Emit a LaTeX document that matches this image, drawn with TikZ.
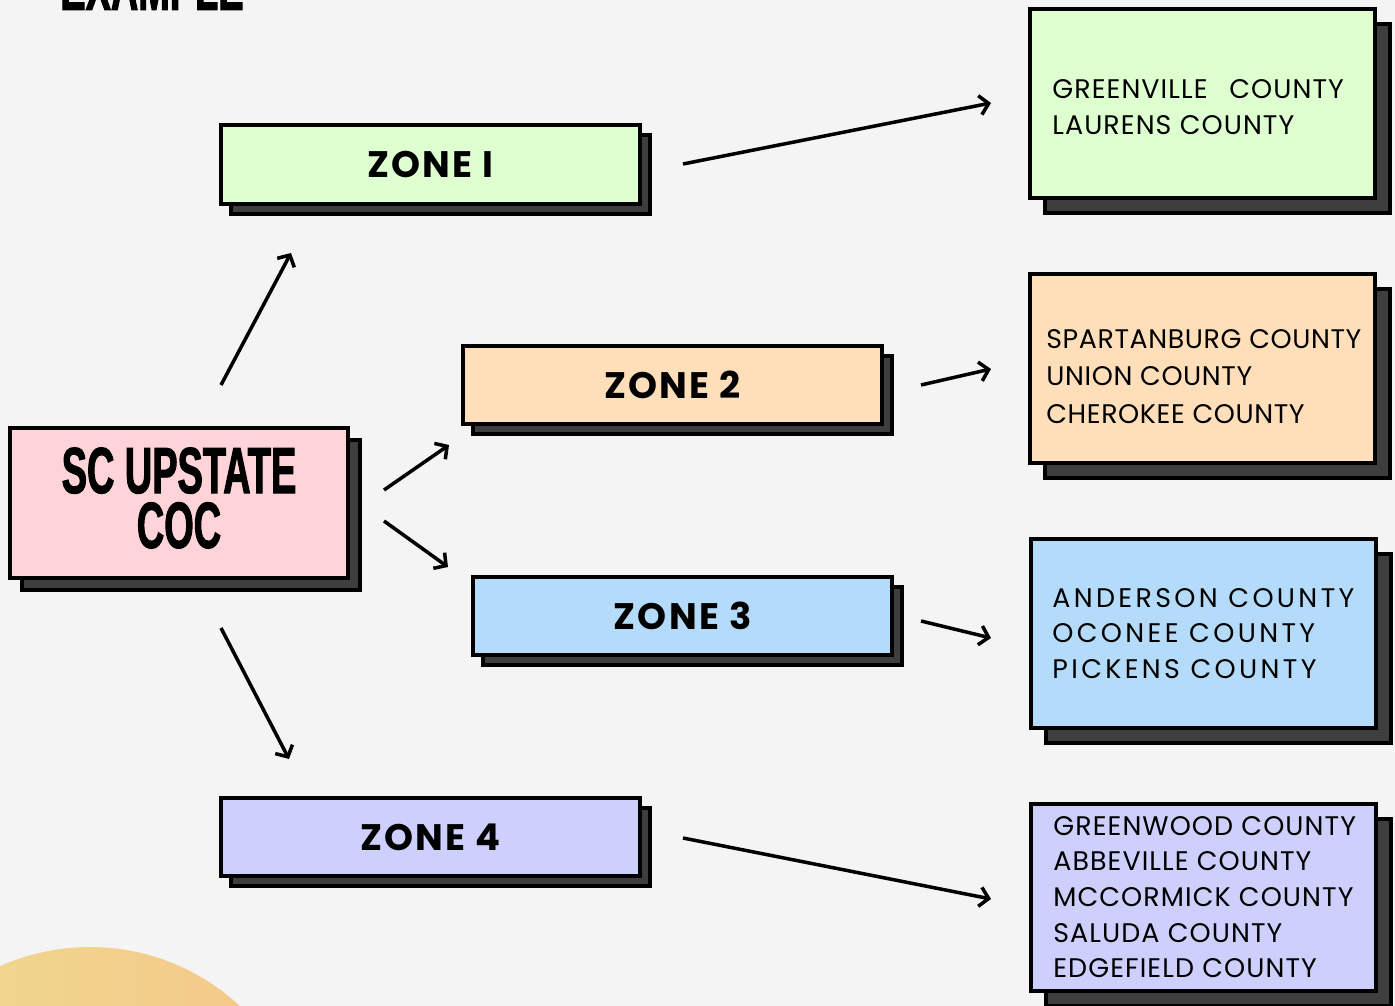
\documentclass[tikz,border=0pt]{standalone}
\usepackage{fontspec}
\setmainfont{Poppins}
\newfontfamily\headfont[FakeStretch=0.58,FakeBold=1.5]{Liberation Sans Bold}
\newfontfamily\zonefont[LetterSpace=6]{Poppins}
\newfontfamily\ctyfont[LetterSpace=4]{Poppins}
\newfontfamily\ctyfontb[LetterSpace=2.2]{Poppins}
\newfontfamily\spacedfont[LetterSpace=12.5]{Poppins}
\usetikzlibrary{arrows.meta,shadows}
\definecolor{bgc}{HTML}{F4F4F4}
\definecolor{pinkc}{HTML}{FFD4D8}
\definecolor{greenc}{HTML}{DEFFCF}
\definecolor{orangec}{HTML}{FFDFBA}
\definecolor{bluec}{HTML}{B4DCFA}
\definecolor{purplec}{HTML}{CDD0FC}
\definecolor{shadowc}{HTML}{3E3E3E}
\definecolor{sunA}{HTML}{EEDC8E}
\definecolor{sunB}{HTML}{F5C68A}
\tikzset{
  box/.style={draw=black, line width=2.5pt, inner sep=0pt},
  shad/.style={drop shadow={shadow xshift=#1, shadow yshift=-#1, opacity=1, fill=shadowc, draw=black, line width=2.5pt}},
  zonebox/.style={box, shad=0.2cm, minimum width=8.372cm, minimum height=1.57cm, font=\zonefont\bfseries\fontsize{21}{25}\selectfont},
  countybox/.style={box, shad=0.3cm, minimum width=6.892cm, minimum height=3.772cm},
  countytext/.style={anchor=west, align=left, inner sep=0pt, font=\ctyfont\fontsize{15.3}{20.4}\selectfont},
  conn/.style={line width=2pt, -{Straight Barb[length=5pt,width=11pt]}},
  head/.style={font=\headfont\fontsize{37.2}{31.2}\selectfont}
}
\begin{document}
\begin{tikzpicture}[x=0.02cm,y=-0.02cm]
\useasboundingbox (0,0) rectangle (1395,1006);
\fill[bgc] (0,0) rectangle (1395,1006);
\begin{scope}
  \clip (0,0) rectangle (1395,1006);
  \shade[left color=sunA, right color=sunB] (90,1167) circle[radius=4.4cm];
  \node[head, anchor=base west, inner sep=0pt] (ex) at (60,10) {EXAMPLE};
\end{scope}

% main box
\node[box, shad=0.24cm, fill=pinkc, minimum width=6.752cm, minimum height=2.992cm] (coc) at (179,503) {};
\node[head, align=center, inner sep=0pt] (coct) at (179,498) {SC UPSTATE\\COC};

% zones
\node[zonebox, fill=greenc] (z1) at (430.5,164.5) {ZONE I};
\node[zonebox, fill=orangec] (z2) at (672.5,385) {ZONE 2};
\node[zonebox, fill=bluec] (z3) at (682.5,616) {ZONE 3};
\node[zonebox, fill=purplec] (z4) at (430.5,837) {ZONE 4};

% county boxes
\node[countybox, fill=greenc] (c1) at (1202.5,103.5) {};
\node[countybox, fill=orangec] (c2) at (1202.5,368.5) {};
\node[countybox, fill=bluec] (c3) at (1203.5,633.5) {};
\node[countybox, fill=purplec, minimum height=3.732cm] (c4) at (1203.5,897.5) {};

\node[countytext] (t1) at (1052,107) {GREENVILLE\ \hspace{3pt}\ COUNTY\\LAURENS COUNTY};
\node[countytext, font=\ctyfontb\fontsize{15.3}{21.5}\selectfont] (t2) at (1046,376.5) {SPARTANBURG COUNTY\\UNION COUNTY\\CHEROKEE COUNTY};
\node[countytext, font=\spacedfont\fontsize{15.3}{20.4}\selectfont] (t3) at (1052,633.5) {ANDERSON COUNTY\\OCONEE COUNTY\\PICKENS COUNTY};
\node[countytext, font=\ctyfont\fontsize{15.3}{20.3}\selectfont] (t4) at (1053,897) {GREENWOOD COUNTY\\ABBEVILLE COUNTY\\MCCORMICK COUNTY\\SALUDA COUNTY\\EDGEFIELD COUNTY};

% connector end points
\coordinate (a1s) at (221,385); \coordinate (a1e) at (291,253);
\coordinate (a2s) at (384,490); \coordinate (a2e) at (449,445);
\coordinate (a3s) at (384,521); \coordinate (a3e) at (448,567);
\coordinate (a4s) at (221,628); \coordinate (a4e) at (289,759);
\coordinate (b1s) at (683,164); \coordinate (b1e) at (991,103);
\coordinate (b2s) at (921,385); \coordinate (b2e) at (991,369);
\coordinate (b3s) at (921,621); \coordinate (b3e) at (991,638);
\coordinate (b4s) at (683,838); \coordinate (b4e) at (991,899);

\draw[conn] (a1s) -- (a1e);
\draw[conn] (a2s) -- (a2e);
\draw[conn] (a3s) -- (a3e);
\draw[conn] (a4s) -- (a4e);
\draw[conn] (b1s) -- (b1e);
\draw[conn] (b2s) -- (b2e);
\draw[conn] (b3s) -- (b3e);
\draw[conn] (b4s) -- (b4e);
\end{tikzpicture}
\end{document}
